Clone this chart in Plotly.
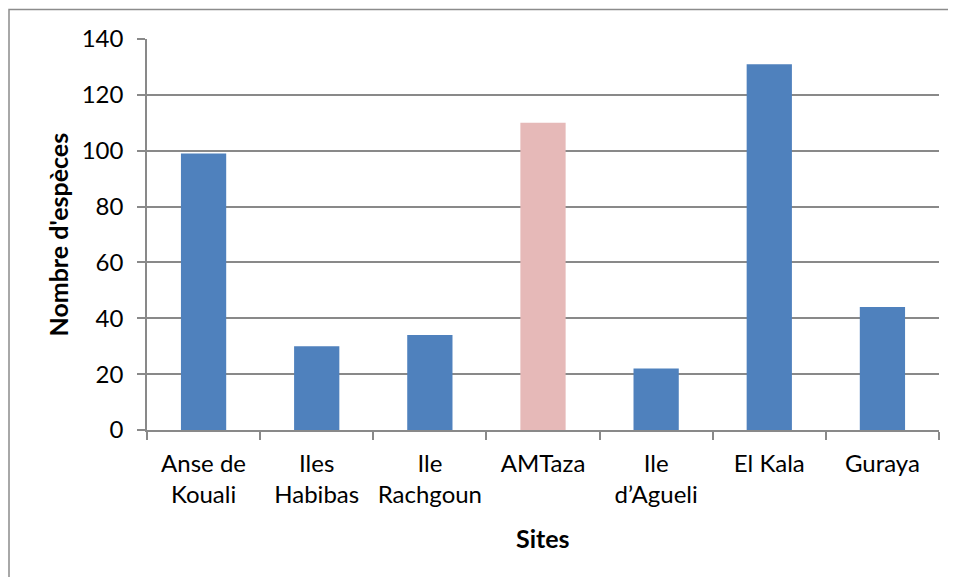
import plotly.graph_objects as go

# chart data
sites = ["Anse de<br>Kouali", "Iles<br>Habibas", "Ile<br>Rachgoun", "AMTaza",
         "Ile<br>d’Agueli", "El Kala", "Guraya"]
nb_especes = [99, 30, 34, 110, 22, 131, 44]
bar_colors = ["#4F81BD", "#4F81BD", "#4F81BD", "#E6B9B8", "#4F81BD", "#4F81BD", "#4F81BD"]

FONT = "Lato"
GRID = "#898989"

# the page body has an 8px margin, so the figure is sized / offset for it
W, H = 948, 569
L, R, T, B = 139, 17, 31, 147
PW, PH = W - L - R, H - T - B


def px_x(x):
    return (x - 8 - L) / PW


def px_y(y):
    return (H - B - (y - 8)) / PH


fig = go.Figure()
fig.add_trace(go.Bar(
    x=sites, y=nb_especes,
    marker=dict(color=bar_colors, line=dict(width=0)),
    width=0.4,
    hoverinfo="x+y",
))

fig.update_layout(
    width=W, height=H,
    margin=dict(l=L, r=R, t=T, b=B),
    paper_bgcolor="white", plot_bgcolor="white",
    font=dict(family=FONT, size=24, color="black"),
    showlegend=False,
    xaxis=dict(
        showline=True, linecolor=GRID, linewidth=1.5,
        ticks="outside", tickson="boundaries", ticklen=8, tickcolor=GRID, tickwidth=1.5,
        showgrid=False, ticklabelstandoff=11, tickangle=0, automargin=False,
    ),
    yaxis=dict(
        range=[0, 140], dtick=20,
        showline=True, linecolor=GRID, linewidth=1.5,
        ticks="outside", ticklen=8, tickcolor=GRID, tickwidth=1.5,
        showgrid=True, gridcolor=GRID, gridwidth=1.5,
        zeroline=False, ticklabelstandoff=9, automargin=False,
    ),
    annotations=[
        dict(text="<b>Nombre d'espèces</b>", textangle=-90, showarrow=False,
             xref="paper", yref="paper", x=px_x(57), y=0.5,
             xanchor="center", yanchor="middle", font=dict(size=25)),
        dict(text="<b>Sites</b>", showarrow=False,
             xref="paper", yref="paper", x=0.5, y=px_y(538),
             xanchor="center", yanchor="middle", font=dict(size=25)),
    ],
    shapes=[
        dict(type="rect", xref="paper", yref="paper",
             x0=px_x(9), x1=1.2, y0=-0.6, y1=px_y(9.5),
             line=dict(color="#8c8c8c", width=1.5), layer="below"),
    ],
)

fig.write_html("out.html")
